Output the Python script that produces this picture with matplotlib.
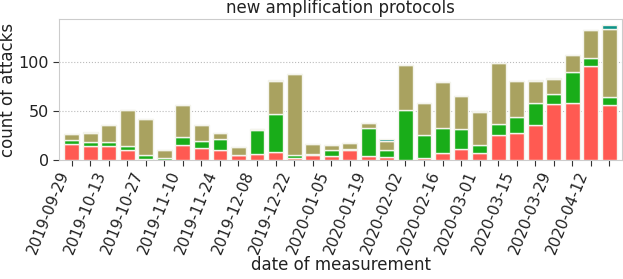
import matplotlib.pyplot as plt
import numpy as np
import pandas as pd

dates = pd.date_range("2019-09-29", periods=30, freq="7D").strftime("%Y-%m-%d")

# stacked counts per week (bottom to top)
red = [17, 15, 15, 11, 1, 0, 16, 13, 11, 5, 6, 8, 2, 5, 4, 10, 4, 3, 0, 2,
       7, 12, 7, 26, 28, 36, 57, 58, 96, 56]
green = [4, 4, 4, 4, 4, 2, 8, 7, 11, 0, 25, 39, 3, 1.5, 7, 2, 29, 7, 51, 24,
         26, 20, 9, 11, 16, 22, 11, 32, 8, 9]
olive = [6, 9, 17, 36, 37, 8, 32, 16, 6, 9, 1, 33.6, 83, 10.5, 5, 6, 5, 10, 46, 32,
         47, 34, 33, 62, 37, 23, 15, 17, 29, 69]
teal = [0, 1, 0, 0, 0, 0, 0, 0, 0, 0, 0, 1, 0, 0, 0, 0, 0, 2, 0, 0,
        0, 0, 1, 0, 0, 1, 1, 0, 0, 4]

colors = ["#ff5a52", "#19ad19", "#a9a260", "#0e9388"]

fig = plt.figure(figsize=(6.23, 2.79), dpi=100)
ax = fig.add_axes([0.0952, 0.4254, 0.9027, 0.5065])

x = np.arange(len(dates))
bottom = np.zeros(len(dates))
for vals, c in zip([red, green, olive, teal], colors):
    vals = np.array(vals, dtype=float)
    ax.bar(x, vals, bottom=bottom, width=0.8, color=c, edgecolor="#f4f4ec",
           linewidth=1, zorder=3)
    bottom += vals

ax.set_xlim(-0.66, len(dates) - 0.34)
ax.set_ylim(0, 144)
ax.set_yticks([0, 50, 100])
ax.set_xticks(x)
ax.set_xticklabels([d if i % 2 == 0 else "" for i, d in enumerate(dates)],
                   rotation=68, ha="right")
ax.yaxis.grid(True, linestyle=":", color="#bbbbbb", linewidth=0.8, zorder=0)

for s in ax.spines.values():
    s.set_color("#cccccc")
ax.tick_params(labelsize=11.5, length=4, color="#333333", labelcolor="#222222")
ax.tick_params(axis="x", pad=2, labelsize=11)

ax.set_title("new amplification protocols", fontsize=12, color="#222222", pad=4)
ax.set_xlabel("date of measurement", fontsize=12, color="#222222", labelpad=0)
ax.set_ylabel("count of attacks", fontsize=12, color="#222222", labelpad=1)

fig.savefig("out.png", dpi=100)
